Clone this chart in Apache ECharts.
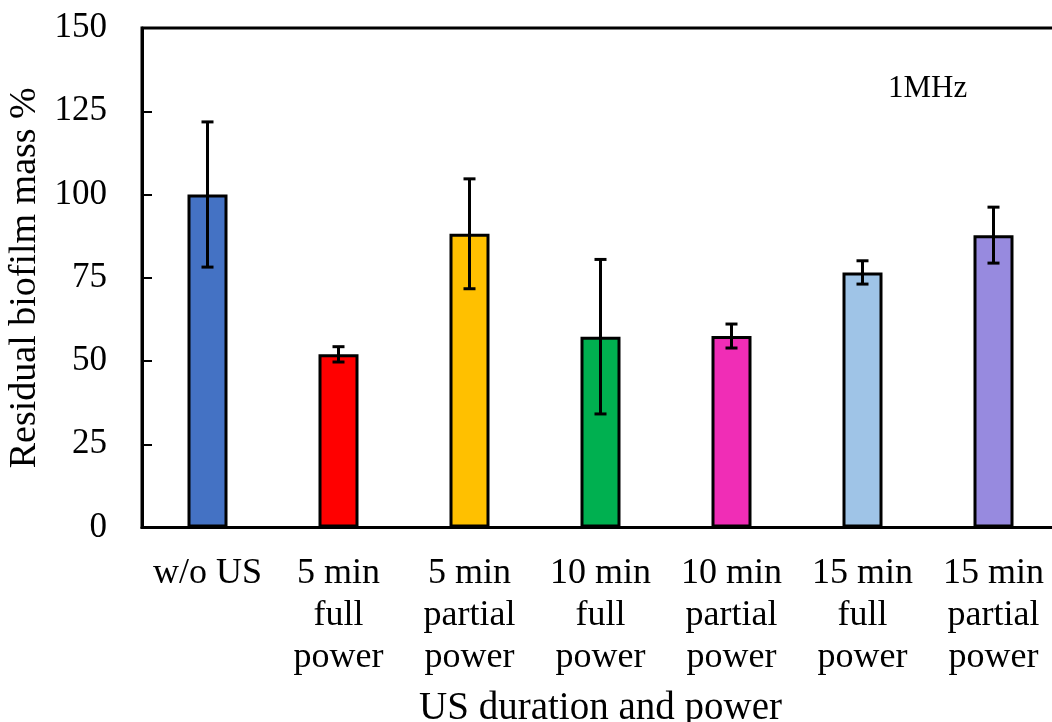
<!DOCTYPE html>
<html>
<head>
<meta charset="utf-8">
<script src="https://cdn.jsdelivr.net/npm/echarts@6/dist/echarts.min.js"></script>
<style>
html,body{margin:0;padding:0;background:#fff;}
#chart{width:1052px;height:722px;}
</style>
</head>
<body>
<div id="chart"></div>
<script>
const categories = ['w/o US', '5 min\nfull\npower', '5 min\npartial\npower', '10 min\nfull\npower', '10 min\npartial\npower', '15 min\nfull\npower', '15 min\npartial\npower'];
const means = [100, 52.0, 88.2, 57.3, 57.5, 76.6, 87.8];
const errors = [21.8, 2.3, 16.5, 23.2, 3.6, 3.5, 8.4];
const barColors = ['#4472C4', '#FF0000', '#FFC000', '#00B050', '#F02DB6', '#9FC4E7', '#978ADF'];
const yTicks = [0, 25, 50, 75, 100, 125, 150];
const annotation = '1MHz';

const FONT = '"Liberation Serif", "Times New Roman", serif';
const chart = echarts.init(document.getElementById('chart'), null, {renderer: 'canvas'});

const barData = means.map((v, i) => ({
  value: v,
  itemStyle: {color: barColors[i], borderColor: '#000', borderWidth: 3}
}));
const errData = means.map((v, i) => [i, v - errors[i], v + errors[i]]);

chart.setOption({
  animation: false,
  backgroundColor: '#fff',
  grid: {left: 142, top: 28, width: 917, height: 499.5, show: true, borderColor: '#000', borderWidth: 3, backgroundColor: 'transparent', containLabel: false, outerBoundsMode: 'none'},
  xAxis: {
    type: 'category',
    data: categories,
    axisLine: {show: true, lineStyle: {color: '#000', width: 3}},
    axisTick: {show: false},
    axisLabel: {color: '#000', fontFamily: FONT, fontSize: 36, lineHeight: 42, margin: 25, interval: 0},
    name: 'US duration and power',
    nameLocation: 'middle',
    nameGap: 162,
    nameTextStyle: {color: '#000', fontFamily: FONT, fontSize: 39}
  },
  yAxis: {
    type: 'value',
    min: yTicks[0],
    max: yTicks[yTicks.length - 1],
    interval: 25,
    splitLine: {show: false},
    axisLine: {show: true, lineStyle: {color: '#000', width: 3}},
    axisTick: {show: true, inside: true, length: 10, lineStyle: {color: '#000', width: 2}},
    axisLabel: {color: '#000', fontFamily: FONT, fontSize: 35, margin: 35},
    name: 'Residual biofilm mass %',
    nameLocation: 'middle',
    nameRotate: 90,
    nameGap: 94,
    nameTextStyle: {color: '#000', fontFamily: FONT, fontSize: 38}
  },
  graphic: [{
    type: 'text',
    left: 888,
    top: 73,
    style: {text: annotation, fill: '#000', font: '31px ' + FONT}
  }],
  series: [{
    type: 'bar',
    data: barData,
    barWidth: 40,
    z: 2
  }, {
    type: 'custom',
    data: errData,
    z: 5,
    renderItem: function (params, api) {
      const x = api.value(0);
      const lo = api.coord([x, api.value(1)]);
      const hi = api.coord([x, api.value(2)]);
      const hw = 6;
      const style = {stroke: '#000', lineWidth: 3};
      return {
        type: 'group',
        children: [
          {type: 'line', shape: {x1: hi[0], y1: hi[1], x2: lo[0], y2: lo[1]}, style: style},
          {type: 'line', shape: {x1: hi[0] - hw, y1: hi[1], x2: hi[0] + hw, y2: hi[1]}, style: style},
          {type: 'line', shape: {x1: lo[0] - hw, y1: lo[1], x2: lo[0] + hw, y2: lo[1]}, style: style}
        ]
      };
    }
  }]
});
</script>
</body>
</html>
